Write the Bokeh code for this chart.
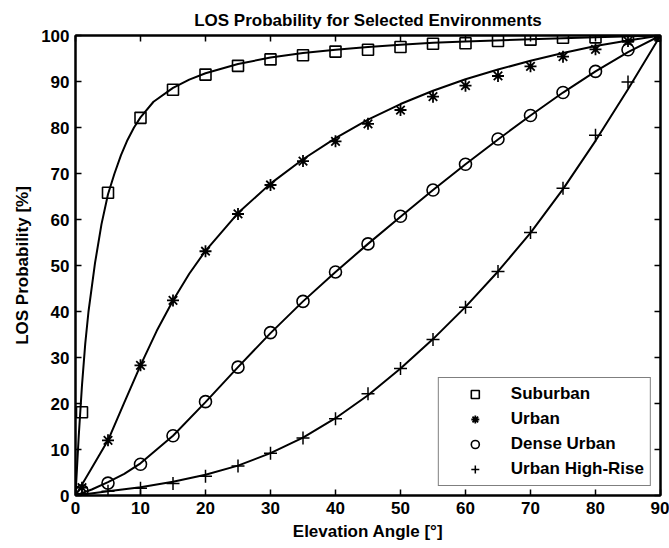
from bokeh.plotting import figure
from bokeh.models import Range1d, FixedTicker, LinearAxis, Legend, LegendItem, CustomLabelingPolicy
from bokeh.embed import file_html
from bokeh.resources import INLINE

# ---- data ----
angles = [1, 5, 10, 15, 20, 25, 30, 35, 40, 45, 50, 55, 60, 65, 70, 75, 80, 85, 90]
suburban_pts = [18.1, 65.8, 82.1, 88.2, 91.5, 93.4, 94.8, 95.7, 96.5, 96.9, 97.5, 98.2, 98.3, 98.8, 99.1, 99.5, 99.6, 99.8, 100]
urban_pts = [1.7, 12.0, 28.3, 42.4, 53.1, 61.2, 67.5, 72.7, 77.0, 80.8, 83.8, 86.7, 89.1, 91.2, 93.3, 95.4, 97.0, 98.8, 100]
dense_pts = [1.0, 2.7, 6.8, 13.0, 20.4, 27.9, 35.4, 42.2, 48.6, 54.7, 60.7, 66.4, 72.0, 77.5, 82.6, 87.6, 92.2, 96.9, 100]
highrise_pts = [0.4, 0.9, 1.6, 2.6, 4.2, 6.4, 9.2, 12.5, 16.7, 22.1, 27.6, 33.9, 40.9, 48.7, 57.2, 66.8, 78.3, 89.9, 100]

# fitted curves
sub_curve_x = [0, 0.5, 1, 1.5, 2, 3, 4, 5, 6, 7, 8, 9, 10, 12, 15, 17.5, 20, 25, 30, 35, 40, 45, 50, 55, 60, 70, 80, 90]
sub_curve_y = [0, 13, 24, 33, 40, 50.5, 59, 65.5, 70, 74, 77.3, 80, 82.2, 85.6, 88.6, 90.4, 91.8, 93.8, 95.2, 96.2, 96.9, 97.5, 98.0, 98.4, 98.7, 99.2, 99.6, 100]
urb_curve_x = [0, 2.5, 5, 7.5, 10, 12.5, 15, 17.5, 20, 25, 30, 35, 40, 45, 50, 55, 60, 65, 70, 75, 80, 85, 90]
urb_curve_y = [0, 6.0, 12.0, 20.2, 28.3, 35.8, 42.4, 48.2, 53.2, 61.4, 67.8, 73.1, 77.7, 81.7, 85.1, 88.0, 90.5, 92.6, 94.5, 96.2, 97.7, 98.9, 100]
den_curve_x = [0, 2.5, 5, 7.5, 10, 15, 20, 25, 30, 35, 40, 45, 50, 55, 60, 65, 70, 75, 80, 85, 90]
den_curve_y = [0, 1.3, 2.9, 4.7, 7.0, 13.0, 20.3, 27.9, 35.3, 42.2, 48.6, 54.7, 60.6, 66.4, 72.0, 77.4, 82.6, 87.6, 92.2, 96.4, 100]
hr_curve_x = [0, 5, 10, 15, 20, 25, 30, 35, 40, 45, 50, 55, 60, 65, 70, 75, 80, 85, 90]
hr_curve_y = [0, 0.9, 1.8, 3.0, 4.5, 6.5, 9.2, 12.6, 16.8, 21.8, 27.6, 34.0, 41.0, 48.7, 57.1, 66.6, 77.1, 88.3, 100]

labels = ["Suburban", "Urban", "Dense Urban", "Urban High-Rise"]
x_ticks = [0, 10, 20, 30, 40, 50, 60, 70, 80, 90]
y_ticks = [0, 10, 20, 30, 40, 50, 60, 70, 80, 90, 100]

FONT = "Liberation Sans"
FS = "17px"

p = figure(width=669, height=548, output_backend="svg", toolbar_location=None,
           x_range=Range1d(0, 90), y_range=Range1d(0, 100),
           min_border_left=75, min_border_right=9, min_border_top=35, min_border_bottom=53)
p.title.text = "LOS Probability for Selected Environments"
p.title.align = "center"
p.title.text_font = FONT
p.title.text_font_size = FS
p.title.text_font_style = "bold"
p.title.text_color = "black"
p.title.standoff = 12

p.xgrid.visible = False
p.ygrid.visible = False
p.outline_line_color = "black"
p.outline_line_width = 2
p.background_fill_color = "white"
p.border_fill_color = "white"

hide_all = CustomLabelingPolicy(code="""
for (const i of indices)
    indices.unset(i)
""")

def style_axis(ax, ticks, show_labels=True):
    ax.ticker = FixedTicker(ticks=ticks)
    ax.minor_tick_line_color = None
    ax.major_tick_in = 6
    ax.major_tick_out = 0
    ax.major_tick_line_width = 1.5
    ax.major_tick_line_color = "black"
    ax.axis_line_width = 2
    ax.axis_line_color = "black"
    ax.major_label_text_font = FONT
    ax.major_label_text_font_style = "bold"
    ax.major_label_text_color = "black"
    if show_labels:
        ax.major_label_text_font_size = FS
        ax.major_label_standoff = 6
    else:
        ax.major_label_text_font_size = "0px"
        ax.major_label_standoff = 0
        ax.major_label_policy = hide_all

style_axis(p.xaxis[0], x_ticks)
style_axis(p.yaxis[0], y_ticks)
p.xaxis[0].axis_label = "Elevation Angle [°]"
p.yaxis[0].axis_label = "LOS Probability [%]"
for ax in (p.xaxis[0], p.yaxis[0]):
    ax.axis_label_text_font = FONT
    ax.axis_label_text_font_size = FS
    ax.axis_label_text_font_style = "bold"
    ax.axis_label_text_color = "black"
p.xaxis[0].axis_label_standoff = 5
p.yaxis[0].axis_label_standoff = 6

top_ax = LinearAxis()
right_ax = LinearAxis()
style_axis(top_ax, x_ticks, show_labels=False)
style_axis(right_ax, y_ticks, show_labels=False)
p.add_layout(top_ax, "above")
p.add_layout(right_ax, "right")

curves = [(sub_curve_x, sub_curve_y), (urb_curve_x, urb_curve_y),
          (den_curve_x, den_curve_y), (hr_curve_x, hr_curve_y)]
for cx, cy in curves:
    p.line(cx, cy, line_color="black", line_width=2)

r_sub = p.scatter(angles, suburban_pts, marker="square", size=11, fill_color=None,
                  line_color="black", line_width=1.6)
r_urb = p.scatter(angles, urban_pts, marker="asterisk", size=12,
                  line_color="black", line_width=1.8)
r_den = p.scatter(angles, dense_pts, marker="circle", size=12, fill_color=None,
                  line_color="black", line_width=1.6)
r_hr = p.scatter(angles, highrise_pts, marker="cross", size=13,
                 line_color="black", line_width=1.5)

legend = Legend(items=[LegendItem(label=labels[0], renderers=[r_sub]),
                       LegendItem(label=labels[1], renderers=[r_urb]),
                       LegendItem(label=labels[2], renderers=[r_den]),
                       LegendItem(label=labels[3], renderers=[r_hr])],
                location="bottom_right", margin=9, padding=6, spacing=5,
                glyph_width=60, glyph_height=20, label_height=20, label_width=130,
                label_standoff=6, label_text_font=FONT, label_text_font_size=FS,
                label_text_font_style="bold", label_text_color="black",
                border_line_color="black",
                border_line_width=1.5, background_fill_color="white",
                background_fill_alpha=1)
p.add_layout(legend)

open("out.html", "w").write(file_html(p, INLINE))
